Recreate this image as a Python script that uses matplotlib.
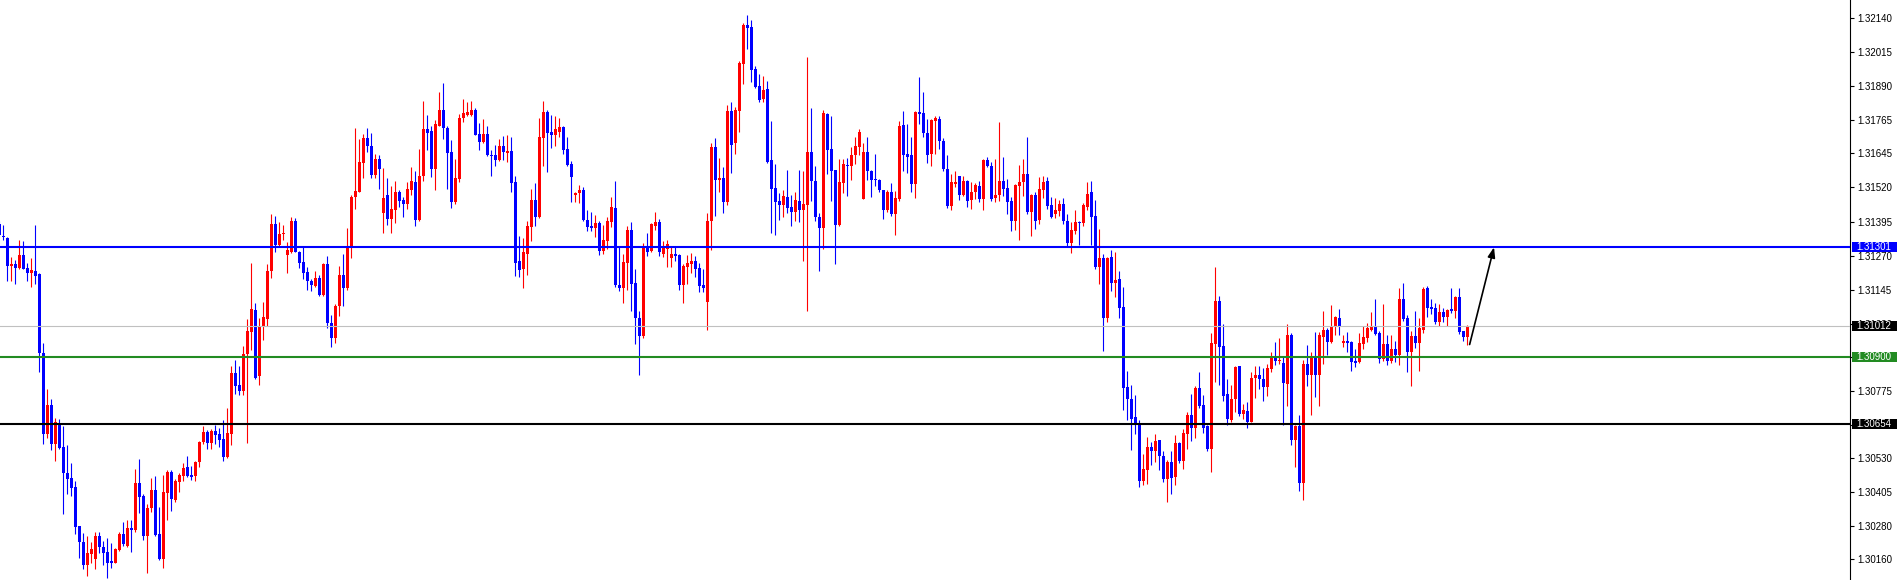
import matplotlib
matplotlib.use("Agg")
import matplotlib.pyplot as plt
import matplotlib.transforms as mtransforms
from matplotlib.patches import Rectangle
import numpy as np

plt.rcParams["font.family"] = ["Liberation Sans", "DejaVu Sans"]

# candle prices in points (1 point = 0.00001)
opens = [
    131387, 131343, 131335, 131234, 131239, 131226, 131273, 131224, 131208, 131214,
    131204, 130913, 130619, 130723, 130579, 130656, 130570, 130476, 130457, 130423,
    130281, 130222, 130138, 130179, 130161, 130244, 130205, 130186, 130151, 130147,
    130191, 130251, 130209, 130274, 130267, 130438, 130392, 130243, 130347, 130412,
    130251, 130161, 130403, 130478, 130375, 130443, 130463, 130496, 130467, 130463,
    130514, 130588, 130625, 130585, 130629, 130618, 130599, 130534, 130619, 130841,
    130798, 130775, 130910, 130991, 131071, 130828, 131010, 131039, 131213, 131387,
    131310, 131348, 131274, 131285, 131398, 131285, 131247, 131211, 131177, 131159,
    131188, 131126, 131241, 131025, 130967, 131086, 131201, 131150, 131299, 131484,
    131505, 131610, 131702, 131671, 131567, 131624, 131427, 131492, 131403, 131438,
    131505, 131475, 131459, 131511, 131541, 131400, 131563, 131735, 131725, 131587,
    131746, 131805, 131739, 131651, 131468, 131552, 131773, 131786, 131786, 131804,
    131716, 131687, 131716, 131640, 131637, 131620, 131671, 131647, 131654, 131540,
    131250, 131222, 131276, 131376, 131474, 131411, 131702, 131797, 131724, 131712,
    131723, 131742, 131660, 131606, 131492, 131499, 131511, 131400, 131380, 131373,
    131390, 131288, 131323, 131394, 131445, 131163, 131153, 131245, 131364, 131170,
    131042, 130977, 131301, 131288, 131380, 131394, 131276, 131296, 131262, 131277,
    131274, 131161, 131228, 131241, 131251, 131224, 131163, 131102, 131398, 131668,
    131547, 131556, 131468, 131800, 131681, 131800, 131973, 132113, 132107, 131953,
    131892, 131843, 131881, 131620, 131518, 131471, 131457, 131484, 131448, 131430,
    131471, 131438, 131457, 131651, 131545, 131411, 131373, 131789, 131660, 131583,
    131383, 131536, 131602, 131597, 131637, 131668, 131479, 131651, 131581, 131551,
    131547, 131509, 131438, 131502, 131421, 131478, 131748, 131644, 131637, 131532,
    131797, 131793, 131719, 131644, 131762, 131770, 131691, 131587, 131452, 131533,
    131560, 131492, 131545, 131475, 131502, 131526, 131479, 131621, 131597, 131482,
    131492, 131543, 131518, 131471, 131396, 131526, 131540, 131570, 131430, 131492,
    131400, 131511, 131543, 131457, 131421, 131434, 131461, 131398, 131316, 131362,
    131394, 131390, 131448, 131502, 131414, 131227, 131262, 131042, 131265, 131170,
    131184, 131082, 130791, 130746, 130680, 130652, 130446, 130486, 130570, 130557,
    130595, 130538, 130453, 130516, 130459, 130585, 130518, 130619, 130687, 130639,
    130787, 130723, 130645, 130564, 130947, 131105, 130940, 130764, 130667, 130744,
    130866, 130692, 130703, 130662, 130821, 130834, 130818, 130791, 130856, 130902,
    130886, 130879, 130802, 130978, 130595, 130645, 130439, 130875, 130832, 130897,
    130834, 130974, 130998, 130954, 131014, 131042, 130952, 130958, 130954, 130886,
    130882, 130947, 130967, 130997, 131014, 130987, 130893, 130947, 130886, 130930,
    130906, 131112, 131042, 130917, 130977, 130950, 130998, 131150, 131082, 131078,
    131028, 131065, 131046, 131075, 131069, 131119, 130994, 130971,
]
highs = [
    131398, 131383, 131338, 131265, 131254, 131326, 131323, 131242, 131262, 131383,
    131207, 130951, 130782, 130746, 130676, 130672, 130645, 130577, 130511, 130446,
    130281, 130256, 130243, 130222, 130259, 130259, 130225, 130236, 130220, 130199,
    130260, 130295, 130304, 130302, 130489, 130526, 130398, 130362, 130457, 130463,
    130350, 130467, 130486, 130486, 130453, 130473, 130511, 130537, 130500, 130520,
    130591, 130646, 130633, 130635, 130652, 130639, 130669, 130713, 130868, 130890,
    130866, 130940, 131039, 131245, 131098, 131042, 131102, 131241, 131421, 131417,
    131394, 131384, 131319, 131411, 131407, 131287, 131301, 131228, 131184, 131214,
    131200, 131245, 131269, 131052, 131093, 131234, 131278, 131373, 131492, 131739,
    131698, 131716, 131739, 131719, 131644, 131640, 131590, 131556, 131525, 131545,
    131511, 131486, 131539, 131593, 131581, 131662, 131838, 131786, 131746, 131766,
    131870, 131904, 131746, 131694, 131624, 131789, 131843, 131834, 131838, 131811,
    131755, 131769, 131746, 131658, 131675, 131696, 131708, 131712, 131705, 131560,
    131343, 131335, 131398, 131514, 131536, 131773, 131836, 131803, 131786, 131782,
    131773, 131744, 131705, 131617, 131502, 131529, 131522, 131437, 131430, 131418,
    131398, 131383, 131411, 131484, 131545, 131301, 131276, 131379, 131394, 131222,
    131069, 131316, 131353, 131391, 131430, 131404, 131323, 131329, 131301, 131301,
    131277, 131241, 131274, 131281, 131269, 131242, 131222, 131425, 131681, 131701,
    131628, 131594, 131820, 131831, 131813, 131983, 132122, 132152, 132134, 131965,
    131935, 131928, 131911, 131763, 131606, 131498, 131509, 131583, 131492, 131505,
    131583, 131581, 131999, 131811, 131597, 131427, 131803, 131793, 131780, 131585,
    131624, 131624, 131628, 131668, 131705, 131735, 131682, 131705, 131583, 131644,
    131552, 131511, 131509, 131536, 131506, 131763, 131800, 131752, 131705, 131800,
    131924, 131870, 131770, 131770, 131782, 131782, 131701, 131640, 131570, 131581,
    131562, 131560, 131547, 131540, 131536, 131545, 131624, 131633, 131614, 131624,
    131759, 131633, 131552, 131484, 131533, 131603, 131624, 131705, 131495, 131505,
    131559, 131560, 131559, 131484, 131482, 131475, 131482, 131421, 131394, 131437,
    131396, 131464, 131540, 131545, 131475, 131369, 131276, 131265, 131292, 131285,
    131214, 131157, 130848, 130798, 130760, 130669, 130545, 130608, 130588, 130618,
    130597, 130557, 130523, 130557, 130615, 130587, 130635, 130699, 130764, 130794,
    130843, 130760, 130652, 130987, 131228, 131123, 131019, 130818, 130798, 130868,
    130868, 130727, 130733, 130845, 130868, 130868, 130859, 130875, 130917, 130954,
    130970, 130899, 131019, 130987, 130649, 130686, 130889, 130943, 130916, 130990,
    130991, 131069, 131005, 131089, 131048, 131075, 130978, 130990, 130958, 130929,
    130987, 131012, 131025, 131065, 131112, 130994, 131093, 130978, 130978, 130958,
    131150, 131170, 131052, 130994, 131066, 131042, 131154, 131159, 131112, 131096,
    131093, 131078, 131075, 131153, 131123, 131153, 130996, 131015,
]
lows = [
    131339, 131326, 131177, 131177, 131168, 131222, 131222, 131177, 131157, 131166,
    130845, 130581, 130602, 130558, 130520, 130561, 130324, 130398, 130392, 130252,
    130164, 130125, 130096, 130145, 130125, 130182, 130138, 130091, 130128, 130145,
    130188, 130206, 130205, 130186, 130260, 130328, 130229, 130110, 130331, 130245,
    130156, 130128, 130301, 130337, 130369, 130405, 130446, 130459, 130450, 130446,
    130497, 130579, 130564, 130564, 130581, 130568, 130520, 130531, 130577, 130764,
    130760, 130761, 130585, 130926, 130820, 130798, 130960, 131012, 131188, 131285,
    131306, 131326, 131208, 131281, 131283, 131224, 131186, 131146, 131140, 131154,
    131123, 131123, 131005, 130937, 130951, 131051, 131086, 131146, 131262, 131441,
    131502, 131556, 131648, 131556, 131556, 131516, 131353, 131384, 131353, 131390,
    131448, 131411, 131441, 131492, 131380, 131398, 131545, 131658, 131559, 131509,
    131743, 131698, 131516, 131445, 131459, 131540, 131759, 131780, 131782, 131712,
    131658, 131681, 131635, 131563, 131599, 131617, 131620, 131614, 131505, 131197,
    131193, 131153, 131200, 131325, 131380, 131409, 131597, 131576, 131664, 131671,
    131705, 131644, 131599, 131468, 131468, 131464, 131398, 131362, 131362, 131339,
    131272, 131276, 131296, 131376, 131157, 131140, 131098, 131146, 131069, 130947,
    130834, 130967, 131269, 131283, 131364, 131269, 131265, 131228, 131228, 131251,
    131146, 131098, 131168, 131208, 131193, 131139, 131139, 130997, 131292, 131417,
    131505, 131425, 131457, 131572, 131644, 131723, 131899, 132027, 131905, 131885,
    131832, 131834, 131608, 131353, 131346, 131400, 131411, 131427, 131380, 131396,
    131394, 131251, 131069, 131471, 131398, 131215, 131296, 131570, 131471, 131241,
    131377, 131499, 131488, 131547, 131606, 131640, 131477, 131547, 131484, 131525,
    131505, 131404, 131430, 131417, 131346, 131472, 131581, 131574, 131505, 131482,
    131752, 131705, 131610, 131599, 131641, 131662, 131579, 131445, 131438, 131522,
    131475, 131488, 131448, 131441, 131478, 131468, 131438, 131594, 131471, 131468,
    131471, 131488, 131421, 131362, 131364, 131329, 131488, 131423, 131343, 131369,
    131387, 131482, 131441, 131407, 131407, 131414, 131387, 131306, 131281, 131350,
    131310, 131380, 131437, 131310, 131222, 131168, 130920, 131028, 131140, 131120,
    131042, 130707, 130667, 130558, 130619, 130423, 130432, 130436, 130504, 130516,
    130484, 130443, 130369, 130396, 130432, 130511, 130491, 130564, 130591, 130604,
    130713, 130622, 130557, 130480, 130807, 130798, 130740, 130652, 130662, 130699,
    130683, 130673, 130639, 130660, 130748, 130782, 130740, 130755, 130845, 130870,
    130875, 130652, 130721, 130577, 130497, 130409, 130375, 130794, 130687, 130753,
    130721, 130875, 130906, 130952, 130981, 130981, 130937, 130916, 130849, 130863,
    130879, 130929, 130954, 130994, 130978, 130879, 130883, 130870, 130879, 130882,
    130870, 131032, 130843, 130794, 130933, 130849, 130987, 131046, 131055, 131019,
    131014, 131028, 131012, 131059, 131042, 130983, 130958, 130944,
]
closes = [
    131346, 131337, 131234, 131239, 131226, 131273, 131223, 131208, 131218, 131197,
    130913, 130619, 130723, 130579, 130662, 130565, 130473, 130453, 130421, 130277,
    130222, 130138, 130182, 130198, 130244, 130205, 130182, 130145, 130147, 130197,
    130251, 130213, 130274, 130266, 130438, 130385, 130243, 130347, 130412, 130249,
    130159, 130405, 130478, 130381, 130446, 130466, 130493, 130462, 130459, 130514,
    130588, 130625, 130585, 130629, 130615, 130595, 130534, 130622, 130841, 130794,
    130775, 130910, 130994, 131075, 130822, 131014, 131046, 131213, 131387, 131310,
    131350, 131353, 131292, 131398, 131285, 131245, 131208, 131177, 131161, 131188,
    131126, 131241, 131025, 130970, 131086, 131201, 131150, 131301, 131486, 131506,
    131614, 131702, 131671, 131567, 131624, 131589, 131482, 131403, 131441, 131505,
    131471, 131459, 131516, 131545, 131400, 131563, 131732, 131719, 131587, 131752,
    131805, 131739, 131647, 131468, 131556, 131775, 131792, 131796, 131804, 131713,
    131687, 131716, 131640, 131636, 131621, 131671, 131651, 131654, 131536, 131245,
    131218, 131283, 131379, 131474, 131411, 131705, 131797, 131719, 131712, 131732,
    131742, 131658, 131602, 131559, 131499, 131511, 131400, 131376, 131373, 131390,
    131288, 131326, 131398, 131448, 131161, 131153, 131247, 131364, 131168, 131042,
    130977, 131301, 131285, 131387, 131394, 131285, 131301, 131312, 131277, 131269,
    131163, 131234, 131245, 131251, 131222, 131159, 131153, 131398, 131668, 131547,
    131556, 131468, 131800, 131675, 131803, 131976, 132115, 132104, 131951, 131888,
    131840, 131878, 131613, 131516, 131468, 131457, 131488, 131445, 131430, 131475,
    131438, 131459, 131651, 131543, 131410, 131373, 131793, 131658, 131581, 131384,
    131540, 131606, 131597, 131640, 131671, 131723, 131651, 131579, 131547, 131547,
    131509, 131438, 131505, 131421, 131482, 131746, 131640, 131633, 131533, 131797,
    131790, 131719, 131640, 131766, 131773, 131691, 131587, 131452, 131540, 131540,
    131492, 131545, 131472, 131505, 131529, 131479, 131621, 131597, 131478, 131492,
    131543, 131516, 131468, 131398, 131529, 131540, 131570, 131430, 131492, 131398,
    131513, 131540, 131452, 131410, 131437, 131459, 131398, 131316, 131364, 131394,
    131390, 131455, 131495, 131411, 131228, 131262, 131042, 131262, 131170, 131181,
    131079, 130787, 130744, 130672, 130649, 130446, 130489, 130570, 130557, 130592,
    130538, 130453, 130516, 130457, 130585, 130518, 130622, 130687, 130639, 130787,
    130719, 130639, 130564, 130951, 131105, 130937, 130757, 130672, 130746, 130863,
    130692, 130706, 130662, 130822, 130834, 130818, 130791, 130859, 130902, 130886,
    130890, 130805, 130978, 130595, 130645, 130439, 130875, 130832, 130897, 130834,
    130978, 130998, 130954, 131014, 131046, 131014, 130958, 130952, 130882, 130879,
    130950, 130971, 131004, 131014, 130983, 130893, 130947, 130886, 130930, 130906,
    131112, 131039, 130916, 130977, 130950, 131004, 131147, 131079, 131075, 131028,
    131065, 131046, 131071, 131069, 131119, 130990, 130971, 131012,
]

level_prices = [1.31301, 1.31012, 1.30900, 1.30654]
level_colors = ["#0000FF", "#C0C0C0", "#228B22", "#000000"]
level_widths = [1.5, 0.8, 1.5, 1.5]
tag_colors = ["#0000FF", "#000000", "#228B22", "#000000"]

tick_values = [1.32140, 1.32015, 1.31890, 1.31765, 1.31645, 1.31520, 1.31395,
               1.31270, 1.31145, 1.31020, 1.30900, 1.30775, 1.30650, 1.30530,
               1.30405, 1.30280, 1.30160]

arrow_start = (367.6, 1.30945)
arrow_end = (373.7, 1.31301)

o = np.array(opens) / 1e5
h = np.array(highs) / 1e5
l = np.array(lows) / 1e5
c = np.array(closes) / 1e5
assert len(o) == len(h) == len(l) == len(c)
x = np.arange(len(o))

up = c >= o
col = np.where(up, "#FF0000", "#0000FF")
hi = np.maximum(h, np.maximum(o, c))
lo = np.minimum(l, np.minimum(o, c))
body_bottom = np.minimum(o, c)
body_h = np.maximum(np.abs(c - o), 0.00004)

W, H = 1897, 580
fig = plt.figure(figsize=(W / 100, H / 100), dpi=100)
ax = fig.add_axes([0, 0, 1850 / W, 1])

ax.vlines(x, lo, hi, colors=col, linewidth=0.8, zorder=2)
ax.bar(x, body_h, bottom=body_bottom, width=0.75, color=col, linewidth=0, zorder=2.1)

for p, lc, lw in zip(level_prices, level_colors, level_widths):
    ax.axhline(p, color=lc, linewidth=lw, zorder=3)

ax.annotate("", xy=arrow_end, xytext=arrow_start,
            arrowprops=dict(arrowstyle="-|>,head_length=0.6,head_width=0.22",
                            color="black", lw=1.2, shrinkA=0, shrinkB=0), zorder=4)

ax.set_xlim(0.175, 462.7)
ax.set_ylim(1.30083, 1.32206)
ax.set_xticks([])
ax.yaxis.tick_right()
ax.set_yticks(tick_values)
ax.set_yticklabels([f"{v:.5f}" for v in tick_values])
ax.tick_params(axis="y", direction="out", length=3, width=0.8, pad=2,
               labelsize=7, colors="black")
for side in ["top", "left", "bottom"]:
    ax.spines[side].set_visible(False)
ax.spines["right"].set_linewidth(0.8)
ax.spines["right"].set_color("black")

trans = mtransforms.blended_transform_factory(fig.transFigure, ax.transData)
box_h = 10.5 / (H / (1.32206 - 1.30083))
for p, tc in zip(level_prices, tag_colors):
    fig.add_artist(Rectangle((1852 / W, p - box_h / 2), 45 / W, box_h,
                             transform=trans, facecolor=tc, edgecolor="none",
                             zorder=5))
    fig.text(1856 / W, p, f"{p:.5f}", transform=trans, va="center", ha="left",
             color="white", fontsize=7, zorder=6)

fig.savefig("out.png", dpi=100, facecolor="white")
